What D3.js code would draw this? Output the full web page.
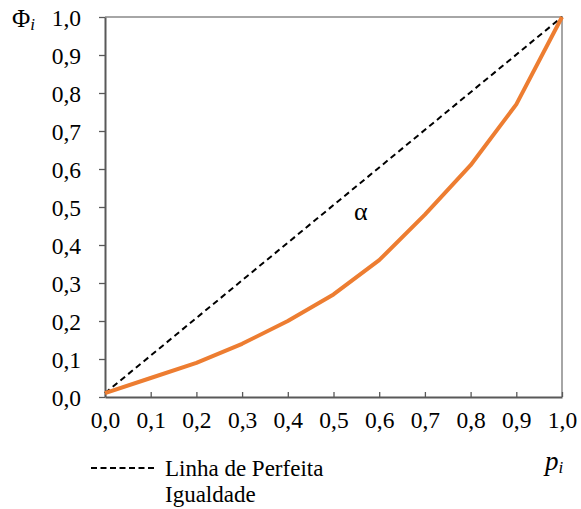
<!DOCTYPE html>
<html>
<head>
<meta charset="utf-8">
<script src="https://cdn.jsdelivr.net/npm/d3@7"></script>
<style>
  body { margin: 0; background: #fff; }
</style>
</head>
<body>
<svg id="chart" width="581" height="509"></svg>
<script>
// cumulative population share vs cumulative income share
var pValues = [0, 0.1, 0.2, 0.3, 0.4, 0.5, 0.6, 0.7, 0.8, 0.9, 1.0];
var phiValues = [0.01, 0.05, 0.09, 0.14, 0.20, 0.27, 0.36, 0.48, 0.61, 0.77, 1.0];
var equalityP = [0, 1.0];
var equalityPhi = [0.01, 1.0];
var tickValues = [0, 0.1, 0.2, 0.3, 0.4, 0.5, 0.6, 0.7, 0.8, 0.9, 1.0];

var serif = "'Liberation Serif', 'DejaVu Serif', serif";

var svg = d3.select('#chart');
var padding = { t: 17, r: 19, b: 112, l: 105 };
var chartWidth = 581 - padding.l - padding.r;
var chartHeight = 509 - padding.t - padding.b;

var chartG = svg.append('g')
    .attr('transform', 'translate(' + [padding.l, padding.t] + ')');

var xScale = d3.scaleLinear().domain([0, 1]).range([0, chartWidth]);
var yScale = d3.scaleLinear().domain([0, 1]).range([chartHeight, 0]);

var fmt = d => d3.format('.1f')(d).replace('.', ',');

// light frame on top and right
chartG.append('path')
    .attr('d', 'M0,0H' + chartWidth + 'V' + chartHeight)
    .attr('fill', 'none')
    .attr('stroke', '#a6a6a6')
    .attr('stroke-width', 2);

var yAxis = chartG.append('g')
    .call(d3.axisLeft(yScale).tickValues(tickValues).tickFormat(fmt).tickSize(6).tickSizeOuter(0));
yAxis.selectAll('text').attr('x', -24).attr('dy', '0.35em');

var xAxis = chartG.append('g')
    .attr('transform', 'translate(0,' + chartHeight + ')')
    .call(d3.axisBottom(xScale).tickValues(tickValues).tickFormat(fmt).tickSize(-5).tickSizeOuter(0));
xAxis.selectAll('text').attr('y', 31).attr('dy', null);

[yAxis, xAxis].forEach(function (ax) {
    ax.attr('font-family', null).attr('font-size', null);
    ax.selectAll('text').style('font-family', serif).style('font-size', '23.5px').attr('fill', '#000');
    ax.select('.domain').attr('stroke', '#595959').attr('stroke-width', 2);
    ax.selectAll('.tick line').attr('stroke', '#595959').attr('stroke-width', 1.3);
});

var line = d3.line()
    .x(d => xScale(d[0]))
    .y(d => yScale(d[1]));

chartG.append('path')
    .datum(d3.zip(equalityP, equalityPhi))
    .attr('d', line)
    .attr('fill', 'none')
    .attr('stroke', '#000')
    .attr('stroke-width', 2)
    .attr('stroke-dasharray', '6,4');

chartG.append('path')
    .datum(d3.zip(pValues, phiValues))
    .attr('d', line)
    .attr('fill', 'none')
    .attr('stroke', '#ED7D31')
    .attr('stroke-width', 4)
    .attr('stroke-linejoin', 'round');

// alpha label
chartG.append('text')
    .attr('x', xScale(0.56))
    .attr('y', yScale(0.465))
    .attr('text-anchor', 'middle')
    .style('font-family', serif)
    .style('font-size', '26px')
    .text('α');

// axis titles
var phiLabel = svg.append('text').attr('x', 12).attr('y', 27)
    .style('font-family', serif).style('font-size', '25px');
phiLabel.append('tspan').text('Φ');
phiLabel.append('tspan').style('font-style', 'italic').style('font-size', '17px').attr('dy', 3).text('i');

var pLabel = svg.append('text').attr('x', 545).attr('y', 470)
    .style('font-family', serif).style('font-size', '27px').style('font-style', 'italic');
pLabel.append('tspan').text('p');
pLabel.append('tspan').style('font-size', '17px').attr('dy', 3).text('i');

// legend
svg.append('line')
    .attr('x1', 91).attr('x2', 157)
    .attr('y1', 468).attr('y2', 468)
    .attr('stroke', '#000')
    .attr('stroke-width', 2)
    .attr('stroke-dasharray', '6,3.5');

svg.append('text').attr('x', 165).attr('y', 476)
    .style('font-family', serif).style('font-size', '23px').text('Linha de Perfeita');
svg.append('text').attr('x', 165).attr('y', 502)
    .style('font-family', serif).style('font-size', '23px').text('Igualdade');
</script>
</body>
</html>
